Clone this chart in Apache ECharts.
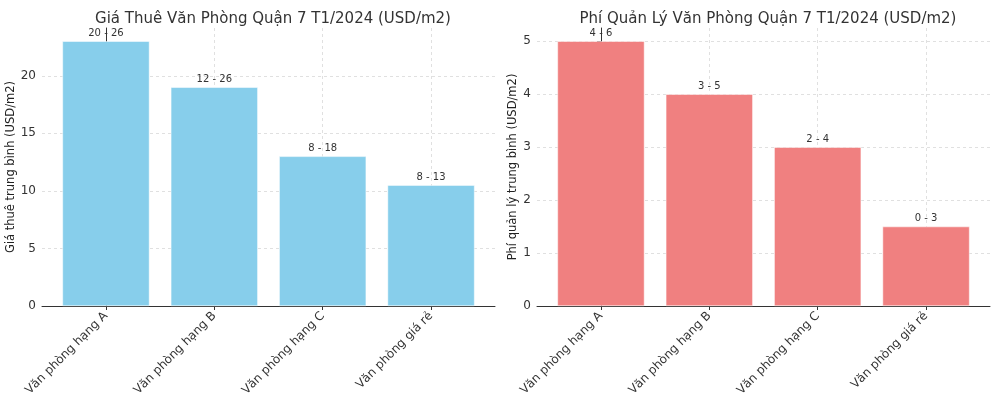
<!DOCTYPE html>
<html><head><meta charset="utf-8">
<script src="https://cdn.jsdelivr.net/npm/echarts@6/dist/echarts.min.js"></script>
<style>html,body{margin:0;padding:0;background:#fff}#c{width:1000px;height:400px}</style>
</head><body><div id="c"></div>
<script>
const categories = ['Văn phòng hạng A', 'Văn phòng hạng B', 'Văn phòng hạng C', 'Văn phòng giá rẻ'];
const rentValues = [23, 19, 13, 10.5];
const rentRanges = ['20 - 26', '12 - 26', '8 - 18', '8 - 13'];
const rentTicks = [0, 5, 10, 15, 20];
const feeValues = [5, 4, 3, 1.5];
const feeRanges = ['4 - 6', '3 - 5', '2 - 4', '0 - 3'];
const feeTicks = [0, 1, 2, 3, 4, 5];
const titles = ['Giá Thuê Văn Phòng Quận 7 T1/2024 (USD/m2)', 'Phí Quản Lý Văn Phòng Quận 7 T1/2024 (USD/m2)'];
const yNames = ['Giá thuê trung bình (USD/m2)', 'Phí quản lý trung bình (USD/m2)'];

const FONT = 'DejaVu Sans';
const catIdx = categories.map((_, i) => i);
const panels = [
  {values: rentValues, ranges: rentRanges, ticks: rentTicks, max: 24.15, color: '#87CEEB', left: 42, right: 505, nameGap: 21},
  {values: feeValues, ranges: feeRanges, ticks: feeTicks, max: 5.25, color: '#F08080', left: 537, right: 10, nameGap: 15}
];

const chart = echarts.init(document.getElementById('c'));
const option = {
  backgroundColor: '#fff',
  animation: false,
  textStyle: {fontFamily: FONT},
  title: panels.map((p, i) => ({
    text: titles[i],
    left: i === 0 ? 268 : 763,
    textAlign: 'center',
    top: 7,
    textStyle: {fontFamily: FONT, fontSize: 15, fontWeight: 'normal', color: '#333'}
  })),
  grid: panels.map(p => ({left: p.left, right: p.right, top: 28, bottom: 94, outerBoundsMode: 'none', containLabel: false})),
  xAxis: panels.map((p, i) => ({
    type: 'value', gridIndex: i, min: -0.59, max: 3.59,
    axisLine: {show: true, lineStyle: {color: '#333', width: 1}},
    axisTick: {show: true, length: 4, lineStyle: {color: '#333'}, customValues: catIdx},
    axisLabel: {customValues: catIdx, rotate: 45, fontSize: 12, color: '#333', fontFamily: FONT, margin: 8,
      formatter: v => categories[Math.round(v)] || ''},
    splitLine: {show: true, lineStyle: {color: '#d9d9d9', type: [3, 3], width: 0.8}}
  })),
  yAxis: panels.map((p, i) => ({
    type: 'value', gridIndex: i, min: 0, max: p.max,
    name: yNames[i], nameLocation: 'middle', nameGap: p.nameGap, nameRotate: 90,
    nameTextStyle: {fontSize: 11.5, color: '#222', fontFamily: FONT},
    axisLine: {show: true, lineStyle: {color: '#333', width: 1}},
    axisTick: {show: true, length: 4, lineStyle: {color: '#333'}, customValues: p.ticks},
    axisLabel: {customValues: p.ticks, fontSize: 12, color: '#333', fontFamily: FONT, margin: 6},
    splitLine: {show: true, lineStyle: {color: '#d9d9d9', type: [3, 3], width: 0.8}}
  })),
  series: panels.map((p, i) => ({
    type: 'bar', xAxisIndex: i, yAxisIndex: i,
    data: p.values.map((v, j) => [j, v]),
    barWidth: 87,
    itemStyle: {color: p.color, borderColor: '#fff', borderWidth: 0.5},
    label: {show: true, position: 'top', distance: 3, fontSize: 10, color: '#333', fontFamily: FONT,
      formatter: params => p.ranges[params.dataIndex]}
  }))
};
chart.setOption(option);
</script></body></html>
